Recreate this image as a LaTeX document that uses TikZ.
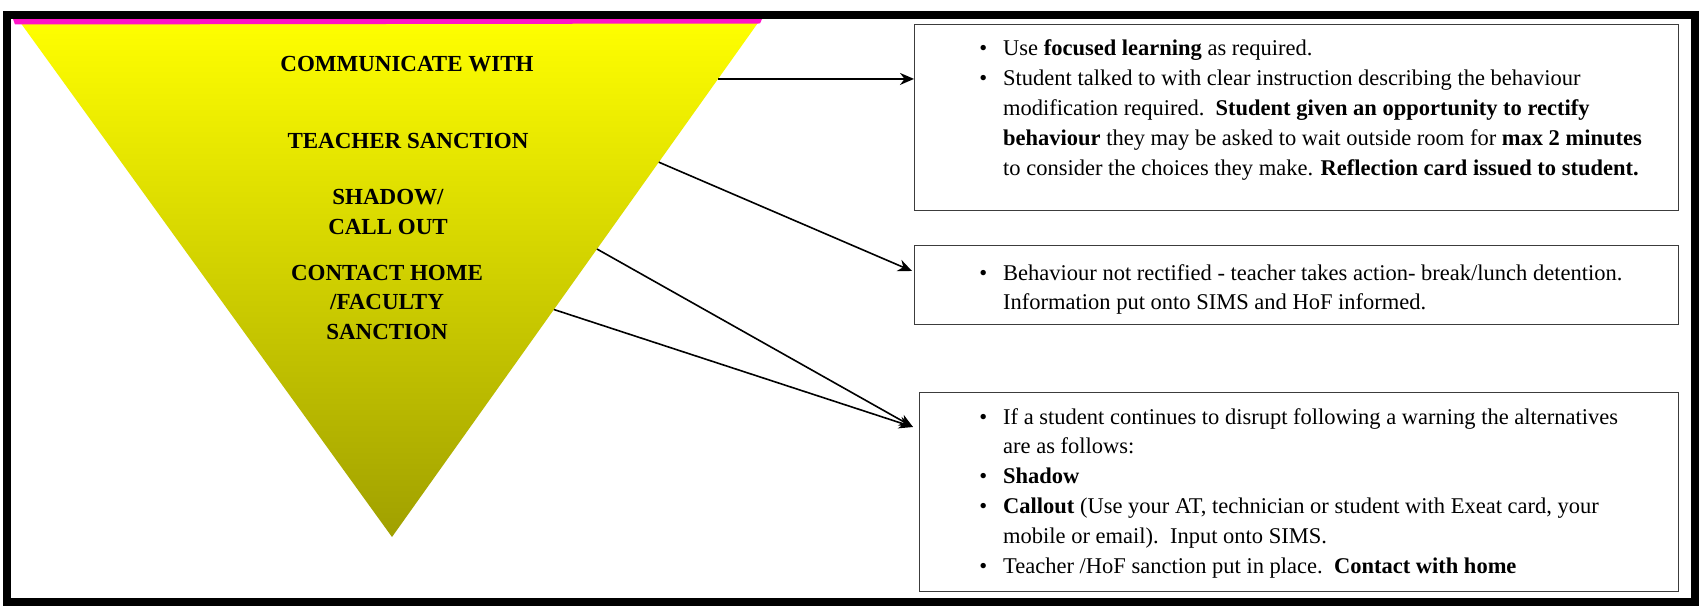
\documentclass[tikz,border=0pt]{standalone}
\usepackage{fontspec}
\setmainfont{Liberation Serif}
\usetikzlibrary{arrows.meta,calc}
\definecolor{olivebot}{RGB}{160,160,0}
\definecolor{pinkline}{RGB}{255,20,200}
\definecolor{boxline}{RGB}{60,60,60}
\newcommand{\bul}{\makebox[40pt]{\textbullet}}
\newcommand{\nob}{\makebox[40pt]{}}
\begin{document}
\begin{tikzpicture}[x=1pt,y=-1pt,
  box/.style={draw=boxline, line width=1.3pt, anchor=north west, inner sep=0pt},
  txt/.style={anchor=base west, inner sep=0pt, font=\fontsize{22.5}{29.8}\selectfont},
  head/.style={inner sep=0pt, align=center, font=\fontsize{23}{29.5}\selectfont\bfseries},
  conn/.style={line width=1.6pt, -{Stealth[length=14pt,width=12pt]}}
]
\useasboundingbox (0,0) rectangle (1700,607);
\fill[white] (0,0) rectangle (1700,607);
% triangle
\coordinate (tl) at (20,22);
\coordinate (tr) at (760,20);
\coordinate (ap) at (392,537);
\shade[top color=yellow, bottom color=olivebot] (tl) -- (tr) -- (ap) -- cycle;
\fill[pinkline] (13,19) -- (762,19) -- (760,23.5) -- (15,24.5) -- cycle;
% frame
\draw[line width=8pt] (7,15) rectangle (1695,602);
% triangle texts
\node[head] (h1) at (407,64) {COMMUNICATE WITH};
\node[head] (h2) at (408,141) {TEACHER SANCTION};
\node[head] (h3) at (388,212) {SHADOW/\\CALL OUT};
\node[head] (h4) at (387,302) {CONTACT HOME\\/FACULTY\\SANCTION};
% boxes
\node[box, minimum width=764pt, minimum height=186pt] (b1) at (914,24) {};
\node[box, minimum width=764pt, minimum height=79pt] (b2) at (914,245) {};
\node[box, minimum width=759pt, minimum height=199pt] (b3) at (919,392) {};
% box texts
\node[txt] (x1) at (963,56) {\begin{tabular}[t]{@{}l@{}l@{}}
\bul & Use \textbf{focused learning} as required.\\
\bul & Student talked to with clear instruction describing the behaviour\\
\nob & modification required.\ \ \textbf{Student given an opportunity to rectify}\\
\nob & \textbf{behaviour} they may be asked to wait outside room for \textbf{max 2 minutes}\\
\nob & to consider the choices they make. \textbf{Reflection card issued to student.}
\end{tabular}};
\node[txt] (x2) at (963,280) {\begin{tabular}[t]{@{}l@{}l@{}}
\bul & Behaviour not rectified - teacher takes action- break/lunch detention.\\
\nob & Information put onto SIMS and HoF informed.
\end{tabular}};
\node[txt] (x3) at (963,424) {\begin{tabular}[t]{@{}l@{}l@{}}
\bul & If a student continues to disrupt following a warning the alternatives\\
\nob & are as follows:\\
\bul & \textbf{Shadow}\\
\bul & \textbf{Callout} (Use your AT, technician or student with Exeat card, your\\
\nob & mobile or email).\ \ Input onto SIMS.\\
\bul & Teacher /HoF sanction put in place.\ \ \textbf{Contact with home}
\end{tabular}};
% connector start points on the triangle edge
\coordinate (s1) at ($(tr)!0.114!(ap)$);
\coordinate (s2) at ($(tr)!0.275!(ap)$);
\coordinate (s3) at ($(tr)!0.443!(ap)$);
\coordinate (s4) at ($(tr)!0.56!(ap)$);
% end points
\coordinate (e1) at (s1 -| b1.west);
\coordinate (e2) at ([xshift=-2pt,yshift=-26pt]b2.north west);
\coordinate (e3) at ([xshift=-6pt,yshift=-35pt]b3.north west);
\draw[conn] (s1) -- (e1);
\draw[conn] (s2) -- (e2);
\draw[conn] (s3) -- (e3);
\draw[conn] (s4) -- (e3);
\end{tikzpicture}
\end{document}
